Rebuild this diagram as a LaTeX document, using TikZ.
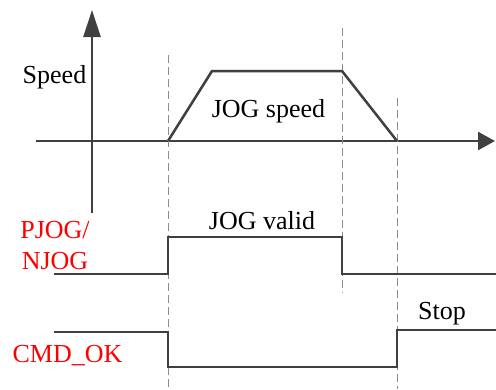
\documentclass[tikz,border=0pt]{standalone}
\usepackage{fontspec}
\setmainfont{Liberation Serif}
\usetikzlibrary{arrows.meta}

\begin{document}
\begin{tikzpicture}[x=1bp, y=-1bp, font=\fontsize{26bp}{30bp}\selectfont]

  \colorlet{sigColor}{black!75}     % waveforms and axes
  \colorlet{shadeColor}{black!18}   % soft shadow under waveforms
  \colorlet{guideColor}{black!45}   % dashed time marks

\tikzset{
  sigline/.style={draw=sigColor, line width=2.5bp, line join=miter},
  shadeline/.style={draw=shadeColor, line width=2.2bp, shift={(3,3)}},
  guide/.style={draw=guideColor, line width=1bp, dash pattern=on 8bp off 4bp},
  guideshade/.style={draw=black!10, line width=1bp, dash pattern=on 8bp off 4bp, shift={(3,0)}},
  lbl/.style={anchor=base, inner sep=0pt},
  redlbl/.style={lbl, text=red}
}

\useasboundingbox (0,0) rectangle (496,389);

% axes
\coordinate (yTop) at (92,10);
\coordinate (yBot) at (92,213);
\coordinate (xLeft) at (36,141);
\coordinate (xRight) at (495,141);
\draw[sigline, -{Triangle[length=27bp, width=17bp]}] (yBot) -- (yTop);
\draw[sigline, -{Triangle[length=17bp, width=18bp]}] (xLeft) -- (xRight);

% dashed time marks
\foreach \i/\gx/\gt/\gb in {1/168/55/389, 2/342/28/293, 3/397/98/389}{
  \coordinate (g\i t) at (\gx,\gt);
  \coordinate (g\i b) at (\gx,\gb);
  \draw[guideshade] (g\i t) -- (g\i b);
  \draw[guide] (g\i t) -- (g\i b);
}

% speed: JOG trapezoid
\coordinate (s0) at (168,141);
\coordinate (s1) at (212,71);
\coordinate (s2) at (342,71);
\coordinate (s3) at (397,141);
\draw[shadeline] (s0) -- (s1) -- (s2);
\draw[sigline] (s0) -- (s1) -- (s2) -- (s3);

% PJOG/NJOG input
\coordinate (p0) at (54,274);
\coordinate (p1) at (168,274);
\coordinate (p2) at (168,237);
\coordinate (p3) at (342,237);
\coordinate (p4) at (342,274);
\coordinate (p5) at (496,274);
\draw[shadeline] (p0) -- (p1) -- (p2) -- (p3) -- (p4) -- (p5);
\draw[sigline] (p0) -- (p1) -- (p2) -- (p3) -- (p4) -- (p5);

% CMD_OK output
\coordinate (c0) at (54,332);
\coordinate (c1) at (168,332);
\coordinate (c2) at (168,367);
\coordinate (c3) at (397,367);
\coordinate (c4) at (397,330);
\coordinate (c5) at (496,330);
\draw[shadeline] (c0) -- (c1) -- (c2) -- (c3) -- (c4) -- (c5);
\draw[sigline] (c0) -- (c1) -- (c2) -- (c3) -- (c4) -- (c5);

% labels
\node[lbl] (speed) at (54.5,83) {Speed};
\node[lbl] (jogSpeed) at (268.5,117) {JOG speed};
\node[lbl] (jogValid) at (262,229) {JOG valid};
\node[lbl] (stop) at (442,319) {Stop};
\node[redlbl] (pjog) at (55,238) {PJOG/};
\node[redlbl] (njog) at (55,269) {NJOG};
\node[redlbl] (cmdOk) at (67.5,362) {CMD\_OK};

\end{tikzpicture}
\end{document}
